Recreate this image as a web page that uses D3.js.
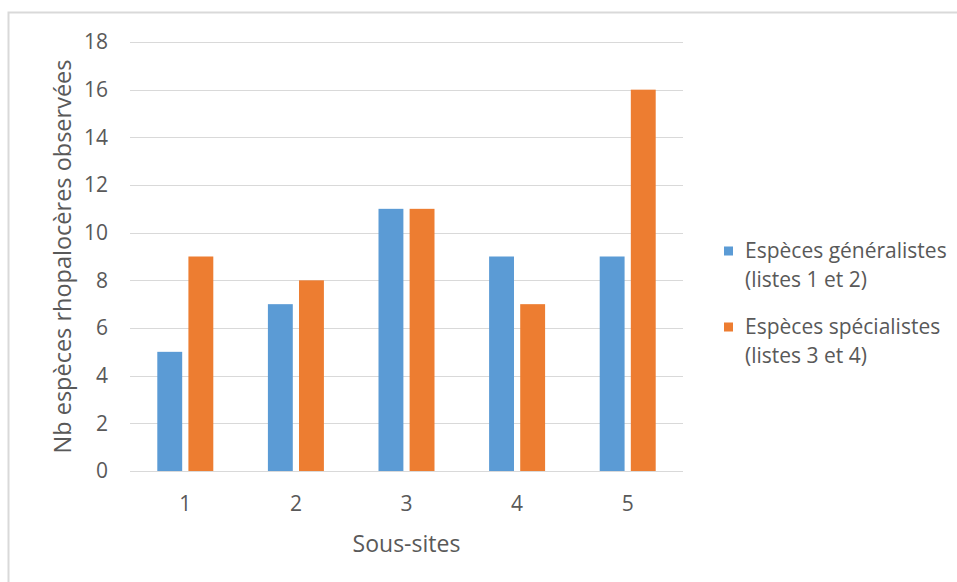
<!DOCTYPE html>
<html>
<head>
<meta charset="utf-8">
<script src="https://cdn.jsdelivr.net/npm/d3@7"></script>
<style>
  body { margin: 0; background: #fff; }
  svg text { font-family: "Open Sans", sans-serif; fill: #595959; }
</style>
</head>
<body>
<div id="chart"></div>
<script>
const sites = ['1', '2', '3', '4', '5'];
const seriesNames = ['Espèces généralistes', 'Espèces spécialistes'];
const seriesSub = ['(listes 1 et 2)', '(listes 3 et 4)'];
const generalistes = [5, 7, 11, 9, 9];
const specialistes = [9, 8, 11, 7, 16];
const yTicks = [0, 2, 4, 6, 8, 10, 12, 14, 16, 18];

const colors = ['#5B9BD5', '#ED7D31'];

const width = 957, height = 582;
const margin = { top: 42, right: 274, bottom: 111, left: 130 };
const innerW = width - margin.left - margin.right;
const innerH = height - margin.top - margin.bottom;

const svg = d3.select('#chart').append('svg')
  .attr('width', width)
  .attr('height', height);

// chart border (runs off the right/bottom edge)
svg.append('rect')
  .attr('x', 8.5).attr('y', 12.5)
  .attr('width', 960).attr('height', 600)
  .attr('fill', 'none')
  .attr('stroke', '#D9D9D9')
  .attr('stroke-width', 2);

const g = svg.append('g').attr('transform', `translate(${margin.left},${margin.top})`);

const x0 = d3.scaleBand().domain(sites).range([0, innerW]).padding(0);
const groupW = 56;
const x1 = d3.scaleBand().domain([0, 1]).range([0, groupW]).paddingInner(0.2);
const y = d3.scaleLinear().domain([0, 18]).range([innerH, 0]);

// gridlines
g.append('g')
  .selectAll('line')
  .data(yTicks)
  .join('line')
  .attr('x1', 0).attr('x2', innerW)
  .attr('y1', d => Math.round(y(d)) + 0.5)
  .attr('y2', d => Math.round(y(d)) + 0.5)
  .attr('stroke', '#D9D9D9')
  .attr('stroke-width', 1);

// y tick labels
g.append('g')
  .selectAll('text')
  .data(yTicks)
  .join('text')
  .attr('x', -22)
  .attr('y', d => y(d))
  .attr('dy', '0.35em')
  .attr('text-anchor', 'end')
  .style('font-size', '21px')
  .text(d => d);

// bars
const data = sites.map((s, i) => ({ site: s, values: [generalistes[i], specialistes[i]] }));
const groups = g.selectAll('.site')
  .data(data)
  .join('g')
  .attr('class', 'site')
  .attr('transform', d => `translate(${x0(d.site) + (x0.bandwidth() - groupW) / 2},0)`);

groups.selectAll('rect')
  .data(d => d.values.map((v, k) => ({ k, v })))
  .join('rect')
  .attr('x', d => x1(d.k))
  .attr('width', x1.bandwidth())
  .attr('y', d => y(d.v))
  .attr('height', d => y(0) - y(d.v))
  .attr('fill', d => colors[d.k]);

// x tick labels
g.append('g')
  .selectAll('text')
  .data(sites)
  .join('text')
  .attr('x', d => x0(d) + x0.bandwidth() / 2)
  .attr('y', innerH + 33)
  .attr('dy', '0.35em')
  .attr('text-anchor', 'middle')
  .style('font-size', '21px')
  .text(d => d);

// axis titles
g.append('text')
  .attr('x', innerW / 2)
  .attr('y', innerH + 73)
  .attr('dy', '0.35em')
  .attr('text-anchor', 'middle')
  .style('font-size', '23px')
  .text('Sous-sites');

g.append('text')
  .attr('transform', `translate(${63 - margin.left},${innerH / 2}) rotate(-90)`)
  .attr('dy', '0.35em')
  .attr('text-anchor', 'middle')
  .style('font-size', '23.5px')
  .text('Nb espèces rhopalocères observées');

// legend
const legend = svg.append('g').attr('transform', 'translate(724,251)');
seriesNames.forEach((name, i) => {
  const row = legend.append('g').attr('transform', `translate(0,${i * 76})`);
  row.append('rect')
    .attr('x', 0).attr('y', -4.5)
    .attr('width', 9).attr('height', 9)
    .attr('fill', colors[i]);
  row.append('text')
    .attr('x', 21).attr('y', 0)
    .attr('dy', '0.35em')
    .style('font-size', '21px')
    .text(name);
  row.append('text')
    .attr('x', 21).attr('y', 29)
    .attr('dy', '0.35em')
    .style('font-size', '21px')
    .text(seriesSub[i]);
});
</script>
</body>
</html>
